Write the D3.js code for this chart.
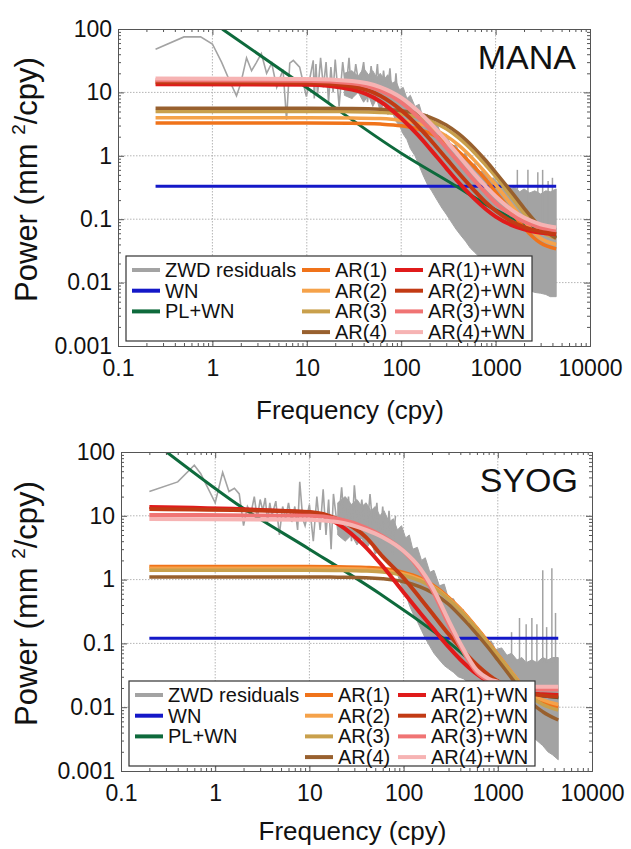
<!DOCTYPE html>
<html>
<head>
<meta charset="utf-8">
<script src="https://cdn.jsdelivr.net/npm/d3@7"></script>
<style>
  body { margin: 0; background: #fff; }
  svg text { font-family: "Liberation Sans", Arial, sans-serif; fill: #111; }
</style>
</head>
<body>
<svg id="chart" width="631" height="849"></svg>
<script>
// ---- tick labels ----
const freqTicks = [0.1, 1, 10, 100, 1000, 10000];
const freqLabels = ["0.1", "1", "10", "100", "1000", "10000"];
const powTicks = [0.001, 0.01, 0.1, 1, 10, 100];
const powLabels = ["0.001", "0.01", "0.1", "1", "10", "100"];

const seriesNames = ["ZWD residuals", "WN", "PL+WN", "AR(1)", "AR(2)", "AR(3)", "AR(4)",
  "AR(1)+WN", "AR(2)+WN", "AR(3)+WN", "AR(4)+WN"];
const seriesColors = ["#a3a3a3", "#1418c8", "#0e6a3c", "#f0731a", "#f5a24a", "#c9a04c", "#98602e",
  "#e01b1b", "#c23a14", "#f07474", "#f6b3b3"];

// ---- MANA (top) ----
const manaResLow = [[0.25,48],[0.5,75],[0.75,75],[1.0,58],[1.25,30],[1.5,16],[1.8,8.8],[2.0,14],
  [2.3,35],[2.6,22],[2.9,29],[3.3,41],[3.75,20],[4.25,29],[4.8,12],[5.6,23],[6.1,3.7],[6.6,29],
  [7.2,32],[8.4,25],[9.9,8.6],[11.7,32]];
const manaResMid = [[12,8],[12.5,28],[13,9],[14,35],[15,12],[16,30],[17,7],[18,25],[19,10],[20,33],
  [22,6],[24,30],[26,11],[28,35],[30,8],[33,28],[36,12],[40,30],[44,7],[48,26],[52,10],[56,28],
  [60,6],[65,22],[70,8],[76,24],[82,5],[88,20],[95,4]];
const manaBand = [[25,9,20],[30,8,22],[35,10,18],[40,7,24],[45,9,19],[50,6,22],[55,8,17],[60,5,20],
  [66,7,16],[72,4.5,19],[80,5,14],[88,3.5,15],[96,3,11],[105,2.2,12],[115,1.8,8],[125,1.3,9],
  [140,1.0,6],[155,0.7,6.5],[170,0.5,4],[190,0.35,4.5],[210,0.28,3],[240,0.2,3.2],[270,0.15,2],
  [300,0.12,2.2],[340,0.09,1.4],[380,0.07,1.5],[430,0.055,1.0],[480,0.045,1.1],[540,0.035,0.7],
  [600,0.03,0.75],[680,0.025,0.55],[760,0.022,0.6],[850,0.018,0.42],[950,0.016,0.45],
  [1100,0.013,0.35],[1250,0.012,0.38],[1400,0.01,0.3],[1600,0.009,0.32],[1800,0.0085,0.27],
  [2000,0.008,0.3],[2300,0.0075,0.26],[2600,0.007,0.28],[3000,0.0068,0.25],[3400,0.0065,0.28],
  [3800,0.006,0.27],[4383,0.006,0.3]];
const manaSpikes = [[1700,0.6],[2200,0.6],[2800,0.55],[3150,0.6],[3600,0.4],[4000,0.45]];

const manaFreq = [0.25,10,30,60,100,150,200,300,400,600,800,1000,1500,2000,3000,4383];
const manaWN = [0.33,0.33,0.33,0.33,0.33,0.33,0.33,0.33,0.33,0.33,0.33,0.33,0.33,0.33,0.33,0.33];
const manaPLf = [1.27, 10, 100, 350, 1000, 2000, 4383];
const manaPL = [100, 11.8, 1.1, 0.36, 0.14, 0.085, 0.052];
const manaAR1 = [3.3,3.3,3.27,3.17,2.97,2.64,2.28,1.65,1.19,0.66,0.41,0.27,0.127,0.073,0.042,0.034];
const manaAR2 = [4.0,4.0,3.96,3.86,3.62,3.24,2.83,2.06,1.5,0.84,0.52,0.35,0.163,0.094,0.05,0.04];
const manaAR3 = [5.0,5.0,4.96,4.83,4.56,4.1,3.6,2.66,1.95,1.11,0.69,0.47,0.217,0.125,0.065,0.05];
const manaAR4 = [5.6,5.6,5.55,5.42,5.14,4.64,4.09,3.07,2.28,1.31,0.82,0.55,0.26,0.15,0.075,0.05];
const manaARWN1 = [13.5,13.2,11.1,7.2,3.9,2.13,1.31,0.64,0.39,0.207,0.141,0.11,0.08,0.069,0.061,0.058];
const manaARWN2 = [14.5,14.25,12.5,8.84,5.22,2.95,1.84,0.91,0.55,0.28,0.18,0.136,0.091,0.075,0.064,0.059];
const manaARWN3 = [15.5,15.3,13.95,10.7,6.94,4.1,2.67,1.34,0.81,0.4,0.254,0.18,0.116,0.091,0.074,0.067];
const manaARWN4 = [16.5,16.34,15.1,12.1,8.25,5.08,3.37,1.72,1.04,0.51,0.32,0.23,0.138,0.106,0.083,0.074];

// ---- SYOG (bottom) ----
const syogResLow = [[0.2,24],[0.4,34],[0.6,62],[0.7,46],[1.0,16],[1.2,48],[1.4,24],[1.6,27],[1.8,22],
  [2.0,7],[2.2,14],[2.4,11],[2.6,20],[2.8,9],[3.0,18],[3.2,12],[3.4,19],[3.6,8],[3.8,16],[4.0,10],
  [4.4,17],[4.8,5],[5.2,14],[5.6,9],[6.0,16],[6.5,8],[7,14],[7.5,6],[7.9,34],[8.5,9],[9,7],[10,15]];
const syogResMid = [[11,4],[12,20],[13,6],[14,26],[15,5],[16,18],[17,3],[18,22],[20,6],[22,28],[24,5],
  [26,20],[28,4],[30,30],[33,6],[36,18],[40,4],[44,22],[48,5],[52,16],[56,3.5],[60,14],[65,3],
  [70,12],[76,2.5],[82,10]];
const syogBand = [[20,5,16],[24,4,20],[28,5,15],[32,3.5,18],[36,4.5,14],[40,3,16],[45,4,12],[50,2.5,14],
  [56,3,10],[62,2,12],[70,2,8],[78,1.4,9],[86,1.2,6],[95,0.8,7],[105,0.6,4.5],[115,0.4,5],[125,0.3,3],
  [140,0.22,3.2],[155,0.16,2],[170,0.12,2.2],[190,0.09,1.3],[210,0.07,1.4],[240,0.055,0.8],
  [270,0.045,0.85],[300,0.04,0.5],[340,0.035,0.5],[380,0.03,0.32],[430,0.028,0.34],[480,0.025,0.2],
  [540,0.022,0.22],[600,0.02,0.14],[680,0.018,0.15],[760,0.016,0.1],[850,0.014,0.11],
  [950,0.012,0.08],[1100,0.01,0.085],[1250,0.008,0.065],[1400,0.007,0.07],[1600,0.005,0.055],
  [1800,0.0045,0.06],[2000,0.004,0.05],[2300,0.0035,0.055],[2600,0.003,0.05],[3000,0.0025,0.06],
  [3400,0.002,0.055],[3800,0.0018,0.06],[4383,0.0015,0.06]];
const syogSpikes = [[1400,0.15],[1700,0.25],[2000,0.2],[2300,0.25],[2600,0.2],[3000,1.4],
  [3300,0.18],[3750,1.5],[4100,0.3]];

const syogFreq = [0.2,10,20,40,60,100,150,200,300,400,600,800,1000,1500,2000,3000,4383];
const syogWN = [0.12,0.12,0.12,0.12,0.12,0.12,0.12,0.12,0.12,0.12,0.12,0.12,0.12,0.12,0.12,0.12,0.12];
const syogPLf = [0.305, 1.97, 10, 56, 286, 1230, 4400];
const syogPL = [100, 13.2, 3.0, 0.6, 0.11, 0.021, 0.014];
const syogAR1 = [1.6,1.6,1.59,1.55,1.49,1.3,1.06,0.84,0.53,0.35,0.175,0.103,0.067,0.031,0.018,0.012,0.01];
const syogAR2 = [1.5,1.5,1.49,1.45,1.39,1.23,1.01,0.8,0.51,0.34,0.17,0.1,0.066,0.031,0.018,0.013,0.011];
const syogAR3 = [1.4,1.4,1.39,1.36,1.31,1.16,0.955,0.77,0.49,0.325,0.166,0.098,0.065,0.03,0.017,0.011,0.009];
const syogAR4 = [1.1,1.1,1.09,1.07,1.03,0.925,0.77,0.63,0.41,0.27,0.14,0.084,0.055,0.025,0.014,0.0085,0.0063];
const syogARWN1 = [13.7,11.35,7.5,3.18,1.62,0.63,0.3,0.18,0.088,0.056,0.033,0.025,0.022,0.018,0.0167,0.016,0.0155];
const syogARWN2 = [12.8,11.5,8.86,4.6,2.29,1.06,0.51,0.3,0.14,0.086,0.046,0.032,0.0255,0.019,0.017,0.0153,0.0146];
const syogARWN3 = [10.3,10.0,9.0,6.5,4.8,2.8,1.4,0.7,0.2,0.09,0.035,0.026,0.023,0.02,0.019,0.019,0.019];
const syogARWN4 = [8.9,8.7,8.0,6.0,4.6,2.8,1.5,0.78,0.23,0.1,0.038,0.028,0.025,0.022,0.021,0.021,0.021];

const svg = d3.select("#chart");

const drawPanel = (p) => {
  const x = d3.scaleLog().domain([0.1, 10000]).range([p.left, p.right]);
  const y = d3.scaleLog().domain([0.001, 100]).range([p.bottom, p.top]);
  const g = svg.append("g");

  svg.append("clipPath").attr("id", "clip-" + p.name)
    .append("rect")
    .attr("x", p.left).attr("y", p.top)
    .attr("width", p.right - p.left).attr("height", p.bottom - p.top);

  // dotted grid at decades
  g.selectAll(".gx").data(freqTicks.slice(1, -1)).enter().append("line")
    .attr("x1", d => x(d)).attr("x2", d => x(d))
    .attr("y1", p.top).attr("y2", p.bottom)
    .attr("stroke", "#b5b5b5").attr("stroke-width", 1).attr("stroke-dasharray", "1.5,1.5");
  g.selectAll(".gy").data(powTicks.slice(1, -1)).enter().append("line")
    .attr("y1", d => y(d)).attr("y2", d => y(d))
    .attr("x1", p.left).attr("x2", p.right)
    .attr("stroke", "#b5b5b5").attr("stroke-width", 1).attr("stroke-dasharray", "1.5,1.5");

  const plot = g.append("g").attr("clip-path", `url(#clip-${p.name})`);
  const line = d3.line().x(d => x(d[0])).y(d => y(d[1])).curve(d3.curveMonotoneX);
  const straight = d3.line().x(d => x(d[0])).y(d => y(d[1]));

  // residual spectrum
  plot.append("path").datum(p.band)
    .attr("d", d3.area().x(d => x(d[0])).y0(d => y(d[1])).y1(d => y(d[2])))
    .attr("fill", seriesColors[0]).attr("stroke", seriesColors[0]).attr("stroke-width", 1);
  plot.selectAll(".spike").data(p.spikes).enter().append("line")
    .attr("x1", d => x(d[0])).attr("x2", d => x(d[0]))
    .attr("y1", y(0.05)).attr("y2", d => y(d[1]))
    .attr("stroke", seriesColors[0]).attr("stroke-width", 1.5);
  plot.append("path").datum(p.resLow.concat(p.resMid))
    .attr("d", straight)
    .attr("fill", "none").attr("stroke", seriesColors[0]).attr("stroke-width", 1.6);

  // model spectra
  const models = [
    p.wnF.map((f, i) => [f, p.wn[i]]),
    p.plF.map((f, i) => [f, p.pl[i]]),
  ].concat(p.ars.map(s => p.freq.map((f, i) => [f, s[i]])));
  const widths = [3, 3, 3.5, 3.5, 3.5, 3.5, 4, 4, 4, 4];
  models.forEach((m, i) => {
    plot.append("path").datum(m)
      .attr("d", line)
      .attr("fill", "none")
      .attr("stroke", seriesColors[i + 1])
      .attr("stroke-width", widths[i]);
  });

  // axes with inward ticks
  const minorX = x.ticks().filter(t => !freqTicks.includes(t));
  const minorY = y.ticks().filter(t => !powTicks.includes(t));
  const fmtX = (d) => freqLabels[freqTicks.indexOf(d)];
  const fmtY = (d) => powLabels[powTicks.indexOf(d)];

  const axes = [
    g.append("g").attr("transform", `translate(0,${p.bottom})`)
      .call(d3.axisBottom(x).tickValues(freqTicks).tickFormat(fmtX).tickSizeInner(-6).tickSizeOuter(0).tickPadding(14)),
    g.append("g").attr("transform", `translate(0,${p.bottom})`)
      .call(d3.axisBottom(x).tickValues(minorX).tickFormat("").tickSizeInner(-3).tickSizeOuter(0)),
    g.append("g").attr("transform", `translate(0,${p.top})`)
      .call(d3.axisTop(x).tickValues(freqTicks).tickFormat("").tickSizeInner(-6).tickSizeOuter(0)),
    g.append("g").attr("transform", `translate(0,${p.top})`)
      .call(d3.axisTop(x).tickValues(minorX).tickFormat("").tickSizeInner(-3).tickSizeOuter(0)),
    g.append("g").attr("transform", `translate(${p.left},0)`)
      .call(d3.axisLeft(y).tickValues(powTicks).tickFormat(fmtY).tickSizeInner(-6).tickSizeOuter(0).tickPadding(6)),
    g.append("g").attr("transform", `translate(${p.left},0)`)
      .call(d3.axisLeft(y).tickValues(minorY).tickFormat("").tickSizeInner(-3).tickSizeOuter(0)),
    g.append("g").attr("transform", `translate(${p.right},0)`)
      .call(d3.axisRight(y).tickValues(powTicks).tickFormat("").tickSizeInner(-6).tickSizeOuter(0)),
    g.append("g").attr("transform", `translate(${p.right},0)`)
      .call(d3.axisRight(y).tickValues(minorY).tickFormat("").tickSizeInner(-3).tickSizeOuter(0)),
  ];
  axes.forEach(a => {
    a.select(".domain").attr("stroke", "#555");
    a.selectAll(".tick line").attr("stroke", "#555");
    a.selectAll("text").attr("font-size", 23).attr("fill", "#111")
      .attr("font-family", "Liberation Sans, Arial, sans-serif");
  });

  // station name
  g.append("text").attr("x", p.right - 14).attr("y", p.top + 40)
    .attr("text-anchor", "end").attr("font-size", 34).text(p.name);

  // axis titles
  g.append("text").attr("x", (p.left + p.right) / 2 - 4).attr("y", p.bottom + p.titleGap)
    .attr("text-anchor", "middle").attr("font-size", 26).text("Frequency (cpy)");
  const yt = g.append("text")
    .attr("transform", `translate(37,${(p.top + p.bottom) / 2 - 8}) rotate(-90)`)
    .attr("text-anchor", "middle").attr("font-size", 31);
  yt.append("tspan").text("Power (mm ");
  yt.append("tspan").attr("font-size", 19).attr("dy", -12).text("2");
  yt.append("tspan").attr("dy", 12).text("/cpy)");

  // legend
  const lg = g.append("g").attr("transform", `translate(${p.left + 8},${p.bottom - 90})`);
  lg.append("rect").attr("width", 406).attr("height", 85)
    .attr("fill", "#fff").attr("stroke", "#333").attr("stroke-width", 1.2);
  const cols = [[0, 1, 2], [3, 4, 5, 6], [7, 8, 9, 10]];
  const colX = [6, 176, 269];
  cols.forEach((c, ci) => {
    c.forEach((si, ri) => {
      const yy = 14 + ri * 20.7;
      lg.append("line").attr("x1", colX[ci]).attr("x2", colX[ci] + 28)
        .attr("y1", yy).attr("y2", yy)
        .attr("stroke", seriesColors[si]).attr("stroke-width", 4);
      lg.append("text").attr("x", colX[ci] + 33).attr("y", yy + 7)
        .attr("font-size", 20).text(seriesNames[si]);
    });
  });
};

drawPanel({
  name: "MANA", left: 118, right: 590, top: 29, bottom: 346, titleGap: 73,
  resLow: manaResLow, resMid: manaResMid, band: manaBand, spikes: manaSpikes,
  wnF: manaFreq, wn: manaWN, plF: manaPLf, pl: manaPL, freq: manaFreq,
  ars: [manaAR1, manaAR2, manaAR3, manaAR4, manaARWN1, manaARWN2, manaARWN3, manaARWN4]
});
drawPanel({
  name: "SYOG", left: 121, right: 592, top: 452, bottom: 771, titleGap: 69,
  resLow: syogResLow, resMid: syogResMid, band: syogBand, spikes: syogSpikes,
  wnF: syogFreq, wn: syogWN, plF: syogPLf, pl: syogPL, freq: syogFreq,
  ars: [syogAR1, syogAR2, syogAR3, syogAR4, syogARWN1, syogARWN2, syogARWN3, syogARWN4]
});
</script>
</body>
</html>
